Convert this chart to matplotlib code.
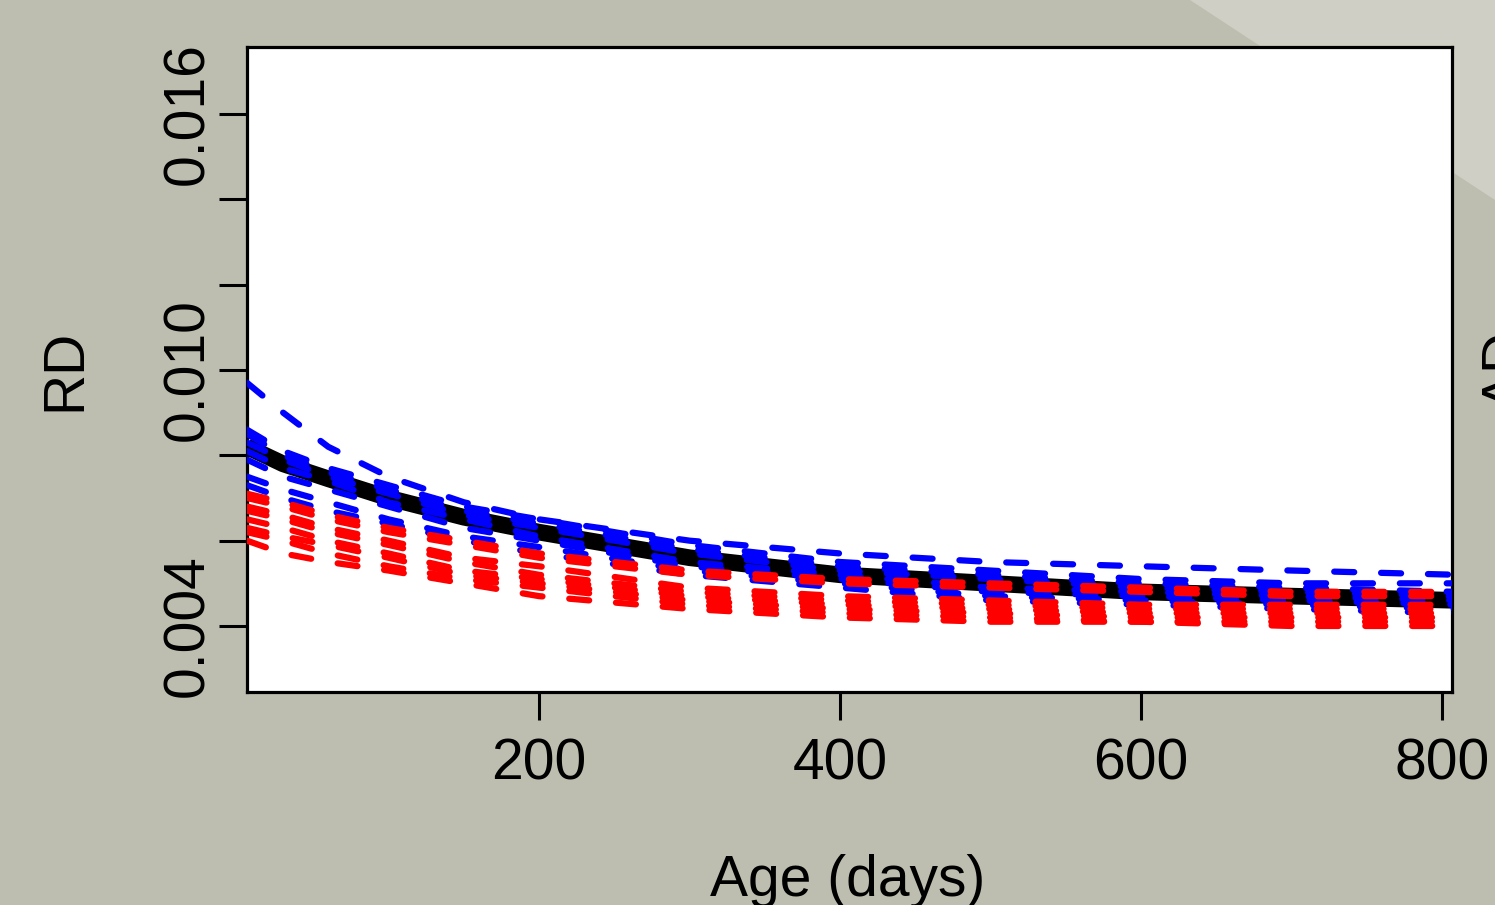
import matplotlib.pyplot as plt
from matplotlib.patches import Polygon

plt.rcParams['font.family'] = ['Liberation Sans', 'DejaVu Sans']

# ---- data ----
age = [6, 30, 60, 100, 150, 200, 300, 400, 500, 600, 700, 810]

rd_fit = [0.0082, 0.0078, 0.00745, 0.0070, 0.00655, 0.0062, 0.0056, 0.0052, 0.0050, 0.0048, 0.0047, 0.0046]

rd_blue = [
    [0.0097, 0.0090, 0.0082, 0.0075, 0.0069, 0.0065, 0.0060, 0.0057, 0.0055, 0.0054, 0.0053, 0.0052],
    [0.0086, 0.0081, 0.0077, 0.0073, 0.0068, 0.0065, 0.0059, 0.0055, 0.0053, 0.0051, 0.0050, 0.0050],
    [0.0085, 0.0080, 0.0076, 0.0072, 0.0067, 0.0064, 0.0058, 0.0054, 0.0052, 0.0050, 0.0049, 0.0048],
    [0.0083, 0.0079, 0.0075, 0.0071, 0.0066, 0.0063, 0.0057, 0.0053, 0.0051, 0.0049, 0.0048, 0.0047],
    [0.0081, 0.0077, 0.0074, 0.0069, 0.0065, 0.0061, 0.0055, 0.0052, 0.0049, 0.0048, 0.0047, 0.0046],
    [0.0079, 0.0075, 0.0072, 0.0068, 0.0063, 0.0060, 0.0054, 0.0051, 0.0048, 0.0047, 0.0046, 0.0045],
    [0.0075, 0.0072, 0.0069, 0.0065, 0.0061, 0.00585, 0.0053, 0.0050, 0.0047, 0.0046, 0.0045, 0.0044],
    [0.0073, 0.0070, 0.0067, 0.0064, 0.0060, 0.0057, 0.0052, 0.0049, 0.0046, 0.0045, 0.0044, 0.0043],
]

rd_red = [
    [0.0071, 0.0069, 0.0066, 0.0063, 0.0060, 0.0057, 0.0053, 0.0051, 0.0050, 0.0049, 0.0048, 0.0048],
    [0.0070, 0.0068, 0.0065, 0.0062, 0.0059, 0.0056, 0.0052, 0.0050, 0.0049, 0.0048, 0.0047, 0.0047],
    [0.0068, 0.0066, 0.0063, 0.0060, 0.0056, 0.0054, 0.0049, 0.0047, 0.0046, 0.0045, 0.0045, 0.0045],
    [0.0067, 0.0065, 0.0062, 0.0059, 0.0055, 0.0052, 0.0048, 0.0046, 0.0045, 0.0044, 0.0044, 0.0044],
    [0.0065, 0.0063, 0.0060, 0.0057, 0.0053, 0.0051, 0.0047, 0.0045, 0.0044, 0.0043, 0.0043, 0.0043],
    [0.0063, 0.0061, 0.0059, 0.0056, 0.0052, 0.0050, 0.0046, 0.0044, 0.0043, 0.0042, 0.0042, 0.0042],
    [0.0062, 0.0060, 0.0057, 0.0054, 0.0051, 0.0049, 0.0045, 0.0043, 0.0042, 0.0041, 0.0041, 0.0041],
    [0.0060, 0.0057, 0.0055, 0.0053, 0.0050, 0.0047, 0.0044, 0.0042, 0.0041, 0.0041, 0.0040, 0.0040],
]

x_ticks = [200, 400, 600, 800]
y_ticks = [0.004, 0.006, 0.008, 0.010, 0.012, 0.014, 0.016]
y_labels = ['0.004', '', '', '0.010', '', '', '0.016']

# ---- figure ----
bg = '#bebeb0'
fig = plt.figure(figsize=(14.95, 9.05), dpi=100, facecolor=bg)

# lighter diagonal band top right (behind the plot box)
fig.patches.append(Polygon([(1190 / 1495, 1), (1, 1), (1, 1 - 200 / 905)],
                           closed=True, transform=fig.transFigure,
                           facecolor='#cfcfc5', edgecolor='none', zorder=-5))

ax = fig.add_axes([247 / 1495, 1 - 692 / 905, (1452 - 247) / 1495, (692 - 47) / 905])
ax.set_zorder(1)
ax.set_facecolor('white')

ax.plot(age, rd_fit, color='black', lw=12, solid_capstyle='butt', zorder=2)
for ys in rd_blue:
    ax.plot(age, ys, color='#0000ff', lw=4.5, dashes=(3.2, 4.3),
            dash_capstyle='round', zorder=3)
for ys in rd_red:
    ax.plot(age, ys, color='#ff0000', lw=4.5, dashes=(3.2, 4.3),
            dash_capstyle='round', zorder=4)

ax.set_xlim(6, 806.6)
ax.set_ylim(0.002453, 0.01757)

ax.set_xticks(x_ticks)
ax.set_xticklabels([str(t) for t in x_ticks])
ax.set_yticks(y_ticks)
ax.set_yticklabels(y_labels, rotation=90, va='center')

for s in ax.spines.values():
    s.set_linewidth(2.3)
ax.tick_params(axis='both', direction='out', length=20, width=2.2,
               labelsize=41, colors='black')
ax.tick_params(axis='x', pad=13)
ax.tick_params(axis='y', pad=3)

fig.text(65 / 1495, 1 - 370 / 905, 'RD', rotation=90, ha='center', va='center',
         fontsize=41)
fig.text(848 / 1495, 1 - 896 / 905, 'Age (days)', ha='center', va='baseline',
         fontsize=41)
fig.text(1481 / 1495, 1 - 370 / 905, 'AD', rotation=90, ha='left', va='center',
         fontsize=41)

fig.savefig('out.png', dpi=100, facecolor=bg)
